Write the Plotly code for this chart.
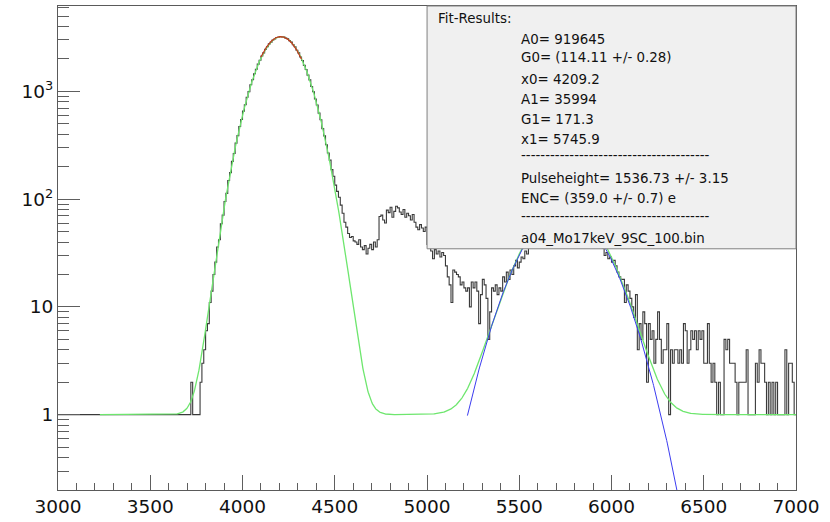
import numpy as np
import plotly.graph_objects as go

# ---------------------------------------------------------------------------
# Pulse-height spectrum (counts per 10-channel bin, 3000 ... 7000)
# ---------------------------------------------------------------------------
bin_lo = 3000
bin_width = 10

counts_3000 = [
    1, 1, 1, 1, 1, 1, 1, 1, 1, 1,            # 3000
    1, 1, 1, 1, 1, 1, 1, 1, 1, 1,            # 3100
    1, 1, 1, 1, 1, 1, 1, 1, 1, 1,            # 3200
    1, 1, 1, 1, 1, 1, 1, 1, 1, 1,            # 3300
    1, 1, 1, 1, 1, 1, 1, 1, 1, 1,            # 3400
    1, 1, 1, 1, 1, 1, 1, 1, 1, 1,            # 3500
    1, 1, 1, 1, 1, 1, 1, 1, 1, 1,            # 3600
    1, 1, 2, 1, 1, 1, 1, 2, 3, 4,            # 3700
    6, 7, 11, 14, 20, 26, 36, 42, 59, 71,    # 3800
    95, 113, 149, 176, 224, 265, 331, 388, 472, 548,  # 3900
]
counts_4000 = [
    655, 750, 881, 995, 1151, 1283, 1455, 1602, 1790, 1941,   # 4000
    2131, 2276, 2462, 2590, 2758, 2861, 2995, 3062, 3158, 3179,  # 4100
    3226, 3198, 3197, 3121, 3075, 2953, 2868, 2711, 2592, 2410,  # 4200
    2274, 2081, 1934, 1741, 1596, 1413, 1279, 1111, 993, 849,    # 4300
    746, 628, 545, 451, 386, 320, 268, 230, 188, 163,            # 4400
    135, 118, 104, 88, 74, 61, 55, 48, 44, 45,                   # 4500
    41, 40, 38, 42, 36, 34, 37, 31, 35, 38,                      # 4600
    34, 40, 36, 42, 69, 71, 64, 60, 79, 75,                      # 4700
    84, 68, 77, 86, 83, 76, 72, 80, 68, 74,                      # 4800
    70, 64, 72, 61, 55, 52, 58, 54, 50, 55,                      # 4900
]
counts_5000 = [
    38, 36, 33, 28, 34, 31, 33, 29, 32, 30,   # 5000
    24, 19, 16, 11, 22, 21, 20, 19, 16, 17,   # 5100
    15, 14, 15, 10, 17, 15, 17, 14, 7, 13,    # 5200
    18, 16, 12, 5, 9, 15, 14, 16, 13, 15,     # 5300
    14, 19, 17, 21, 18, 22, 20, 24, 27, 23,   # 5400
    26, 29, 28, 33, 31, 44, 50, 47, 57, 55,   # 5500
    63, 60, 68, 66, 74, 71, 79, 75, 83, 78,   # 5600
    85, 80, 88, 82, 87, 84, 89, 81, 86, 79,   # 5700
    83, 76, 79, 72, 75, 67, 69, 62, 63, 56,   # 5800
    57, 50, 51, 44, 45, 35, 30, 32, 28, 29,   # 5900
]
counts_6000 = [
    26, 27, 24, 21, 19, 18, 18, 11, 16, 14,   # 6000
    12, 10, 8, 13, 4, 7, 5, 9, 7, 2,          # 6100
    7, 5, 6, 3, 5, 9, 5, 3, 4, 4,             # 6200
    7, 1, 4, 3, 4, 4, 3, 4, 3, 7,             # 6300
    6, 3, 4, 6, 5, 6, 4, 6, 5, 6,             # 6400
    3, 3, 7, 3, 2, 3, 2, 1, 2, 1,             # 6500
    1, 5, 4, 5, 3, 3, 3, 2, 1, 2,             # 6600
    2, 2, 2, 4, 1, 1, 1, 1, 3, 2,             # 6700
    4, 3, 3, 2, 1, 2, 1, 2, 1, 2,             # 6800
    1, 1, 1, 1, 4, 1, 3, 3, 2, 1,             # 6900
]
counts = counts_3000 + counts_4000 + counts_5000 + counts_6000
edges = bin_lo + bin_width * np.arange(len(counts) + 1)

# ---------------------------------------------------------------------------
# Fit: constant + two normalised Gaussians
# ---------------------------------------------------------------------------
baseline = 1.0
A0, G0, x0 = 919645.0, 114.11, 4209.2
A1, G1, x1 = 35994.0, 171.3, 5745.9
fit_lo, fit_hi = 3227.0, 7000.0

# single-peak pre-fits (height, mean, sigma, range)
pre0_amp, pre0_mean, pre0_sigma, pre0_lo, pre0_hi = 3225.0, 4207.0, 114.5, 4100.0, 4320.0
pre1_amp, pre1_mean, pre1_sigma, pre1_lo, pre1_hi = 77.7, 5743.6, 177.4, 5219.0, 6400.0

stats_title = "Fit-Results:"
stats_lines = [
    "A0= 919645",
    "G0= (114.11 +/- 0.28)",
    "x0= 4209.2",
    "A1= 35994",
    "G1= 171.3",
    "x1= 5745.9",
    "-" * 39,
    "Pulseheight= 1536.73 +/- 3.15",
    "ENC= (359.0 +/- 0.7) e",
    "-" * 39,
    "a04_Mo17keV_9SC_100.bin",
]
# vertical pixel position of every line in the stats box
stats_line_y = [38.3, 56.7, 79.0, 99.3, 119.0, 139.3, 155.3, 178.3, 199.0, 216.7, 239.3]

x_ticks = [3000, 3500, 4000, 4500, 5000, 5500, 6000, 6500, 7000]
x_minor_step = 100
y_ticks = [1, 10, 100, 1000]
y_ticktext = ["1", "10", "10<sup>2</sup>", "10<sup>3</sup>"]
y_minor = [0.2, 0.3, 0.4, 0.5, 0.6, 0.7, 0.8, 0.9,
           2, 3, 4, 5, 6, 7, 8, 9,
           20, 30, 40, 50, 60, 70, 80, 90,
           200, 300, 400, 500, 600, 700, 800, 900,
           2000, 3000, 4000, 5000, 6000]

x_range = [3000, 7000]
y_range_log = [-0.699, 3.792]


def gauss_norm(x, area, sigma, mean):
    return area / (np.sqrt(2 * np.pi) * sigma) * np.exp(-0.5 * ((x - mean) / sigma) ** 2)


def gauss(x, amp, mean, sigma):
    return amp * np.exp(-0.5 * ((x - mean) / sigma) ** 2)


xf = np.linspace(fit_lo, fit_hi, 1500)
yf = baseline + gauss_norm(xf, A0, G0, x0) + gauss_norm(xf, A1, G1, x1)

xp0 = np.linspace(pre0_lo, pre0_hi, 200)
yp0 = gauss(xp0, pre0_amp, pre0_mean, pre0_sigma)
xp1 = np.linspace(pre1_lo, pre1_hi, 400)
yp1 = gauss(xp1, pre1_amp, pre1_mean, pre1_sigma)

# step outline of the histogram
hx = list(edges)
hy = list(counts) + [counts[-1]]

fig = go.Figure()
fig.add_trace(go.Scatter(x=hx, y=hy, mode="lines", line=dict(color="#3a3a3a", width=1.1, shape="hv"),
                         hoverinfo="skip"))
fig.add_trace(go.Scatter(x=xf, y=yf, mode="lines", line=dict(color="#6ee66e", width=1.3), hoverinfo="skip"))
fig.add_trace(go.Scatter(x=xp1, y=yp1, mode="lines", line=dict(color="#3c3cf0", width=1.0), hoverinfo="skip"))
fig.add_trace(go.Scatter(x=xp0, y=yp0, mode="lines", line=dict(color="#c8321e", width=1.2), hoverinfo="skip"))
# carrier for the overlaid minor-tick axes
fig.add_trace(go.Scatter(x=[x_range[0]], y=[1], xaxis="x2", yaxis="y2", mode="markers",
                         marker=dict(opacity=0), hoverinfo="skip"))

# plot-area geometry in pixels
W, H = 830, 522
L, R, T, B = 58.0, 796.5, 5.0, 492.0


def px(xpix):
    return (xpix - L) / (R - L)


def py(ypix):
    return (B - ypix) / (B - T)


axis_col = "#5a5a5a"
tick_col = "#5e5e5e"
tick_w = 1.4
font_tick = dict(family="DejaVu Sans", size=18.5, color="#111111")

fig.update_layout(
    width=W, height=H,
    margin=dict(l=L, r=W - R, t=T, b=H - B, pad=0),
    paper_bgcolor="white", plot_bgcolor="white",
    showlegend=False,
    xaxis=dict(
        range=x_range, showgrid=False, zeroline=False,
        showline=True, mirror=True, linecolor=axis_col, linewidth=1,
        tickmode="array", tickvals=x_ticks, ticks="inside", ticklen=15,
        tickcolor=tick_col, tickwidth=tick_w, tickfont=font_tick,
    ),
    yaxis=dict(
        type="log", range=y_range_log, showgrid=False, zeroline=False,
        showline=True, mirror=True, linecolor=axis_col, linewidth=1,
        tickmode="array", tickvals=y_ticks, ticktext=y_ticktext,
        ticks="inside", ticklen=22, tickcolor=tick_col, tickwidth=tick_w, tickfont=font_tick,
    ),
    xaxis2=dict(
        overlaying="x", anchor="y2", side="bottom", range=x_range,
        showgrid=False, zeroline=False, showline=False, showticklabels=False,
        tickmode="linear", tick0=x_range[0], dtick=x_minor_step,
        ticks="inside", ticklen=7, tickcolor=tick_col, tickwidth=tick_w,
    ),
    yaxis2=dict(
        overlaying="y", anchor="x2", side="left", type="log", range=y_range_log,
        showgrid=False, zeroline=False, showline=False, showticklabels=False,
        tickmode="array", tickvals=y_minor,
        ticks="inside", ticklen=11, tickcolor=tick_col, tickwidth=tick_w,
    ),
)

# stats box
fig.add_shape(type="rect", xref="paper", yref="paper",
              x0=px(427.3), x1=px(796.5), y0=py(249.3), y1=py(5.0),
              fillcolor="#f0f0f0", line=dict(color="#808080", width=1), layer="above")

box_font = dict(family="DejaVu Sans", size=13.4, color="#111111")
fig.add_annotation(xref="paper", yref="paper", x=px(436.7), y=py(17.3), text=stats_title,
                   showarrow=False, xanchor="left", yanchor="middle", font=box_font)
for line, yl in zip(stats_lines, stats_line_y):
    fig.add_annotation(xref="paper", yref="paper", x=px(519.0), y=py(yl), text=line,
                       showarrow=False, xanchor="left", yanchor="middle", font=box_font)

fig.write_html("out.html")
